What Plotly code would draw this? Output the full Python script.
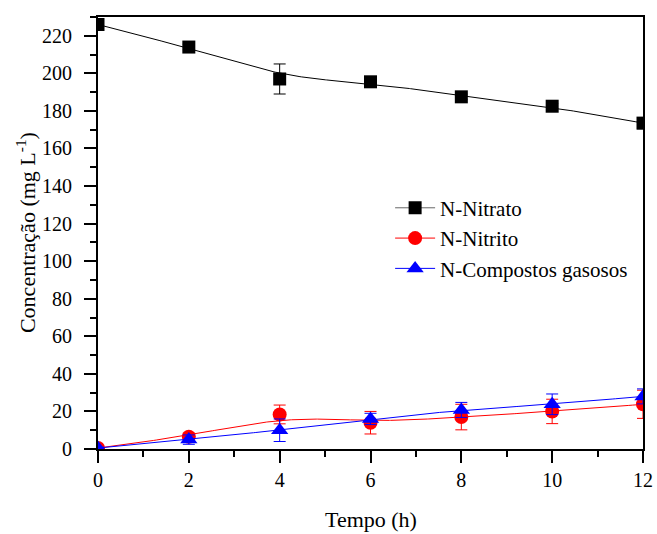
import numpy as np
import plotly.graph_objects as go

tempo = [0, 2, 4, 6, 8, 10, 12]
nitrato = [226, 214, 197, 195.5, 187.5, 182.5, 173.5]
nitrato_err = [2, 1.5, 8, 1.5, 1.5, 1.5, 3]
nitrito = [0.5, 6.5, 18.4, 14, 17, 20, 23.8]
nitrito_err = [0.5, 2, 5, 6, 6.8, 6.5, 7.5]
gasosos = [0.5, 5, 10, 16, 20.8, 23.8, 28]
gasosos_err = [0.5, 2.5, 6, 3, 4, 5.5, 4]

x_ticks = [0, 2, 4, 6, 8, 10, 12]
y_ticks = list(range(0, 221, 20))


def bspline(xs, ys, k=3, n_eval=300):
    P = np.column_stack([xs, ys]).astype(float)
    n = len(P)
    inner = np.arange(1, n - k)
    knots = np.concatenate([np.zeros(k + 1), inner, np.full(k + 1, n - k)]).astype(float)

    def basis(i, p, t):
        if p == 0:
            if knots[i] <= t < knots[i + 1]:
                return 1.0
            if t == knots[-1] and knots[i] < t <= knots[i + 1]:
                return 1.0
            return 0.0
        a = 0.0
        d1 = knots[i + p] - knots[i]
        if d1 > 0:
            a = (t - knots[i]) / d1 * basis(i, p - 1, t)
        b = 0.0
        d2 = knots[i + p + 1] - knots[i + 1]
        if d2 > 0:
            b = (knots[i + p + 1] - t) / d2 * basis(i + 1, p - 1, t)
        return a + b

    ts = np.linspace(0, knots[-1], n_eval)
    out = []
    for t in ts:
        w = np.array([basis(i, k, t) for i in range(n)])
        out.append(w @ P)
    out = np.array(out)
    return out[:, 0], out[:, 1]


FONT = "Liberation Serif, Times New Roman, serif"
series = [
    ("N-Nitrato", nitrato, nitrato_err, "black", "#666666", "square", 13),
    ("N-Nitrito", nitrito, nitrito_err, "red", "red", "circle", 14),
    ("N-Compostos gasosos", gasosos, gasosos_err, "blue", "blue", "triangle-up", 15),
]

fig = go.Figure()
for name, vals, errs, color, legline, sym, size in series:
    sx, sy = bspline(tempo, vals)
    fig.add_trace(go.Scatter(x=sx, y=sy, mode="lines", line=dict(color=color, width=1),
                             showlegend=False, hoverinfo="skip"))
    fig.add_trace(go.Scatter(
        x=tempo, y=vals, mode="markers", name=name,
        marker=dict(symbol=sym, size=size, color=color),
        error_y=dict(type="data", array=errs, color=color, thickness=1, width=6),
        showlegend=False,
    ))
    fig.add_trace(go.Scatter(
        x=[None], y=[None], mode="lines+markers", name=name,
        line=dict(color=legline, width=1),
        marker=dict(symbol=sym, size=size, color=color),
    ))

fig.update_layout(
    width=657, height=534,
    margin=dict(l=98, r=14, t=17, b=85),
    paper_bgcolor="white", plot_bgcolor="white",
    font=dict(family=FONT, size=20, color="black"),
    showlegend=True,
    legend=dict(x=0.536, y=0.605, xanchor="left", yanchor="top",
                bgcolor="rgba(0,0,0,0)", font=dict(size=21, family=FONT),
                tracegroupgap=0, itemwidth=40),
    xaxis=dict(
        range=[0, 12], tickvals=x_ticks, ticktext=[str(v) for v in x_ticks],
        automargin=False,
        showgrid=False, zeroline=False, showline=True, linecolor="black", linewidth=2,
        mirror=True, ticks="outside", ticklen=12, tickwidth=2, tickcolor="black",
        minor=dict(dtick=1, ticks="outside", ticklen=6, tickwidth=2, tickcolor="black"),
        tickfont=dict(size=20, family=FONT),
    ),
    yaxis=dict(
        range=[0, 230], tickvals=y_ticks, ticktext=[str(v) for v in y_ticks],
        automargin=False,
        showgrid=False, zeroline=False, showline=True, linecolor="black", linewidth=2,
        mirror=True, ticks="outside", ticklen=12, tickwidth=2, tickcolor="black",
        minor=dict(dtick=10, ticks="outside", ticklen=6, tickwidth=2, tickcolor="black"),
        tickfont=dict(size=20, family=FONT), ticklabelstandoff=8,
    ),
    annotations=[
        dict(text="Tempo (h)", xref="paper", yref="paper", x=0.5, y=-0.164,
             xanchor="center", yanchor="middle", showarrow=False,
             font=dict(size=22, family=FONT)),
        dict(text="Concentração (mg L<sup>-1</sup>)", xref="paper", yref="paper",
             x=-0.132, y=0.5, xanchor="center", yanchor="middle", textangle=-90,
             showarrow=False, font=dict(size=22, family=FONT)),
    ],
)

fig.write_html("out.html", config={"displayModeBar": False},
               post_script="document.body.style.margin='0';")
